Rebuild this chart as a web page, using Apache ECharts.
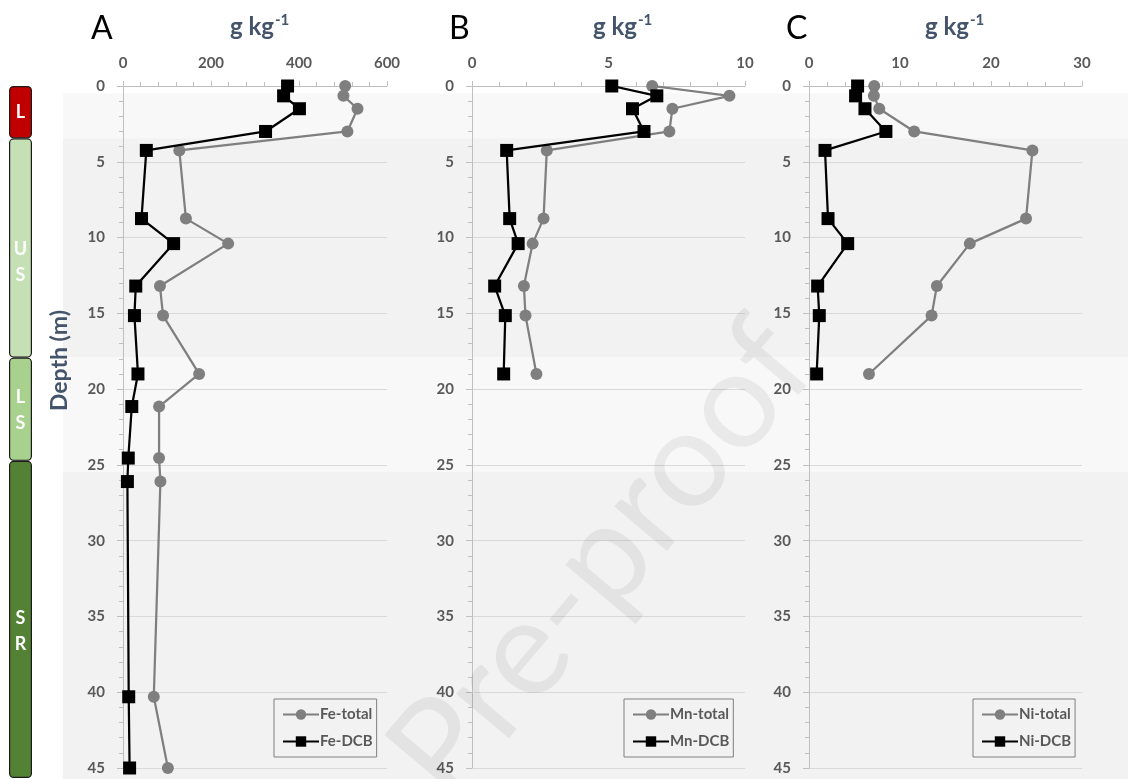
<!DOCTYPE html>
<html>
<head>
<meta charset="utf-8">
<script src="https://cdn.jsdelivr.net/npm/echarts@6/dist/echarts.min.js"></script>
<style>html,body{margin:0;padding:0;background:#fff;}#c{width:1128px;height:779px;}</style>
</head>
<body>
<div id="c"></div>
<script>
// ---- data ----
var depthFe = [0, 0.65, 1.5, 3, 4.25, 8.75, 10.4, 13.2, 15.15, 19, 21.15, 24.55, 26.1, 40.3, 45];
var feTotal = [505, 501, 533, 510, 128, 143, 239, 84, 91, 173, 82, 82, 85, 70, 102];
var feDCB   = [374, 365, 401, 324, 53, 42, 115, 29, 26, 34, 20, 12, 10, 13, 15];
var depthMnNi = [0, 0.65, 1.5, 3, 4.25, 8.75, 10.4, 13.2, 15.15, 19];
var mnTotal = [6.6, 9.43, 7.34, 7.23, 2.74, 2.62, 2.22, 1.90, 1.96, 2.36];
var mnDCB   = [5.12, 6.77, 5.88, 6.30, 1.27, 1.38, 1.69, 0.83, 1.22, 1.16];
var niTotal = [7.17, 7.13, 7.72, 11.56, 24.55, 23.85, 17.67, 14.05, 13.47, 6.59];
var niDCB   = [5.34, 5.12, 6.15, 8.45, 1.76, 2.09, 4.25, 0.95, 1.13, 0.84];
var panelLetters = ['A', 'B', 'C'];
var seriesNames = [['Fe-total', 'Fe-DCB'], ['Mn-total', 'Mn-DCB'], ['Ni-total', 'Ni-DCB']];
var xMax = [600, 10, 30];
var xInterval = [200, 5, 10];
var layerLabels = ['L', 'U\nS', 'L\nS', 'S\nR'];
var layerThickness = [3.45, 14.45, 6.8, 20.9];
var layerColors = ['#c00000', '#c5e0b4', '#a9d18e', '#548235'];
var bandStart = [0.5, 3.45, 17.9, 25.45];
var bandEnd   = [3.45, 17.9, 25.45, 45.7];
var bandColors = ['#f8f8f8', '#f2f2f2', '#f8f8f8', '#f2f2f2'];

function pairs(xs, ys) { return xs.map(function (v, i) { return [v, ys[i]]; }); }

var FONT = 'Lato, "Open Sans", sans-serif';
var GRAY = '#595959';
var panelLeft = [123, 472, 809];
var panelWidth = [264, 273, 273];
var legendLeft = [274, 624, 973];
var unitLeft = [225, 588, 920];
var letterLeft = [86, 444, 781];

var grids = [], xAxes = [], yAxes = [], series = [], titles = [], legends = [];

for (var p = 0; p < 3; p++) {
  grids.push({ left: panelLeft[p], width: panelWidth[p], top: 86, height: 682 });
  xAxes.push({
    type: 'value', gridIndex: p, position: 'top', min: 0, max: xMax[p], interval: xInterval[p], z: 5,
    axisLine: { show: true, lineStyle: { color: '#bfbfbf', width: 1 } },
    axisTick: { show: true, length: 5, lineStyle: { color: '#bfbfbf' } },
    minorTick: { show: true, splitNumber: 5, length: 4, lineStyle: { color: '#bfbfbf' } },
    splitLine: { show: false },
    axisLabel: { color: GRAY, fontWeight: 'bold', fontSize: 15, fontFamily: FONT, margin: 15 }
  });
  yAxes.push({
    type: 'value', gridIndex: p, inverse: true, min: 0, max: 45, interval: 5, z: 5,
    axisLine: { show: true, lineStyle: { color: '#bfbfbf', width: 1 } },
    axisTick: { show: true, length: 6, lineStyle: { color: '#bfbfbf' } },
    minorTick: { show: true, splitNumber: 5, length: 4, lineStyle: { color: '#bfbfbf' } },
    splitLine: { show: true, lineStyle: { color: '#d9d9d9', width: 1 } },
    axisLabel: { color: GRAY, fontWeight: 'bold', fontSize: 15, fontFamily: FONT, margin: 18 }
  });
  titles.push({ text: panelLetters[p], left: letterLeft[p], top: 8,
    textStyle: { fontSize: 32, fontWeight: 'normal', color: '#000', fontFamily: FONT } });
  titles.push({ text: '{a|g kg}{b|-1}', left: unitLeft[p], top: 8,
    textStyle: { rich: {
      a: { fontSize: 24, fontWeight: 'bold', color: '#44546a', fontFamily: FONT },
      b: { fontSize: 15, fontWeight: 'bold', color: '#44546a', fontFamily: FONT, padding: [0, 0, 14, 1] }
    } } });
  legends.push({
    data: seriesNames[p], orient: 'vertical', left: legendLeft[p], top: 699, z: 6,
    borderColor: '#7f7f7f', borderWidth: 1, padding: [8, 4, 8, 8], itemGap: 12,
    itemWidth: 36, itemHeight: 13,
    textStyle: { color: GRAY, fontWeight: 'bold', fontSize: 15, fontFamily: FONT, padding: [0, 0, 0, -4] }
  });
}

var totals = [feTotal, mnTotal, niTotal];
var dcbs = [feDCB, mnDCB, niDCB];
var depths = [depthFe, depthMnNi, depthMnNi];
for (var q = 0; q < 3; q++) {
  series.push({
    name: seriesNames[q][0], type: 'line', xAxisIndex: q, yAxisIndex: q,
    data: pairs(totals[q], depths[q]), symbol: 'circle', symbolSize: 12,
    lineStyle: { color: '#7f7f7f', width: 2.25 }, itemStyle: { color: '#7f7f7f' }, z: 8
  });
  series.push({
    name: seriesNames[q][1], type: 'line', xAxisIndex: q, yAxisIndex: q,
    data: pairs(dcbs[q], depths[q]), symbol: 'rect', symbolSize: 13,
    lineStyle: { color: '#000', width: 2.25 }, itemStyle: { color: '#000' }, z: 9
  });
}

// background bands grid (index 3)
grids.push({ left: 63, right: 0, top: 86, height: 693 });
xAxes.push({ type: 'value', gridIndex: 3, min: 0, max: 1, show: false });
yAxes.push({ type: 'value', gridIndex: 3, inverse: true, min: 0, max: 45.7, show: false });
series.push({
  type: 'scatter', xAxisIndex: 3, yAxisIndex: 3, data: [], z: -5, silent: true,
  markArea: { silent: true, z: -10, data: bandStart.map(function (s, i) {
    return [{ yAxis: s, xAxis: 0, itemStyle: { color: bandColors[i] } }, { yAxis: bandEnd[i], xAxis: 1 }];
  }) }
});

// stratigraphy column (index 4)
grids.push({ left: 9, width: 23, top: 86, height: 692 });
xAxes.push({ type: 'category', gridIndex: 4, data: ['col'], show: false });
yAxes.push({ type: 'value', gridIndex: 4, inverse: true, min: 0, max: 45.6, show: false });
var labelOffsets = [[0, 0], [0, 14], [0, 1], [0, 12]];
layerThickness.forEach(function (t, i) {
  series.push({
    type: 'bar', xAxisIndex: 4, yAxisIndex: 4, stack: 'strat', barWidth: 23, silent: true,
    data: [t],
    itemStyle: { color: layerColors[i], borderColor: '#1a1a1a', borderWidth: 1.2, borderRadius: 4 },
    label: { show: true, position: 'inside', formatter: layerLabels[i], color: '#fff',
      fontWeight: 'bold', fontSize: 18, lineHeight: 26, fontFamily: FONT, offset: labelOffsets[i] }
  });
});

var chart = echarts.init(document.getElementById('c'), null, { renderer: 'canvas' });
chart.setOption({
  backgroundColor: '#ffffff',
  animation: false,
  title: titles,
  legend: legends,
  grid: grids,
  xAxis: xAxes,
  yAxis: yAxes,
  series: series,
  graphic: [
    { type: 'text', left: 48, top: 310, rotation: Math.PI / 2, z: 10,
      style: { text: 'Depth (m)', fill: '#44546a', font: 'bold 23px ' + FONT } },
    { type: 'text', x: 602, y: 560, rotation: 0.87, z: 50, silent: true,
      style: { text: 'Pre-proof', fill: 'rgba(0,0,0,0.06)', font: '136px ' + FONT,
        textAlign: 'center', textVerticalAlign: 'middle' } }
  ]
});
</script>
</body>
</html>
